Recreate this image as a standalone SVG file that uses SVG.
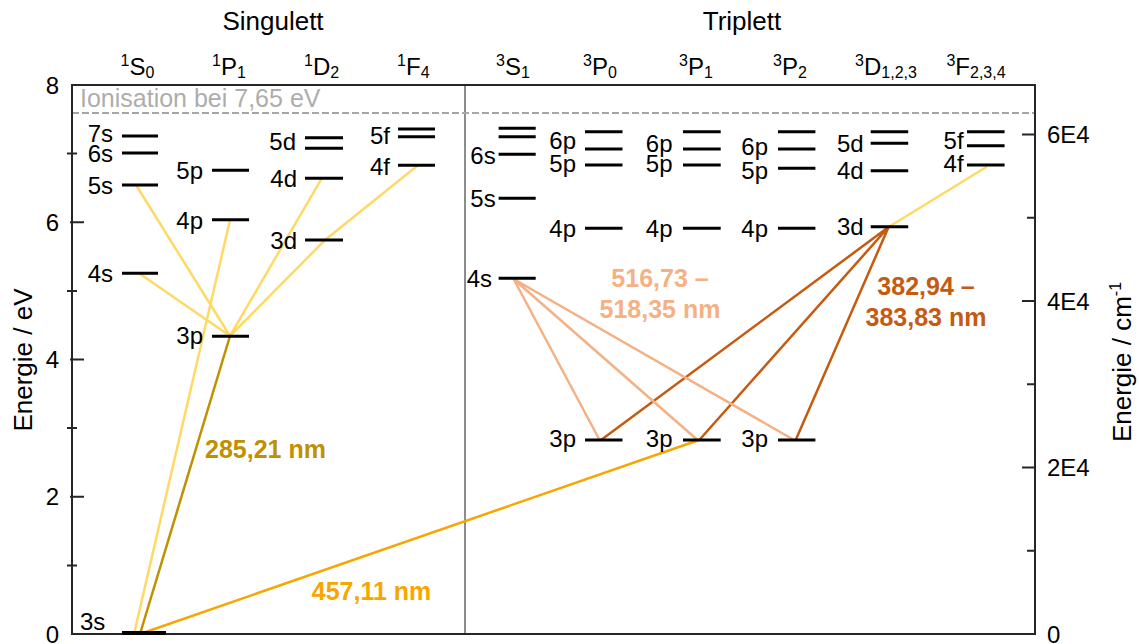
<svg xmlns="http://www.w3.org/2000/svg" width="1139" height="644" viewBox="0 0 1139 644">
<style>
text{font-family:"Liberation Sans",Arial,sans-serif;fill:#000}
.lv{stroke:#000;stroke-width:3;fill:none}
.lb{font-size:24px;text-anchor:end}
.hd{font-size:24px;text-anchor:middle}
.sm{font-size:16px}
.tk{font-size:24px}
.ttl{font-size:26px;text-anchor:middle}
.wl{font-size:25px;font-weight:bold;text-anchor:middle}
.ax{stroke:#262626;stroke-width:2;fill:none}
.tr{stroke-width:2.5;fill:none}
.ly{stroke:#FFD966}.dg{stroke:#BF9000}.og{stroke:#F7A600}.lo{stroke:#F4B183}.do{stroke:#C55A11}
</style>
<rect width="1139" height="644" fill="#fff"/>
<g id="axes">
<line x1="465" y1="85" x2="465" y2="634" stroke="#8C8C8C" stroke-width="2"/>
<line x1="72" y1="113" x2="1035" y2="113" stroke="#A6A6A6" stroke-width="2" stroke-dasharray="7 3"/>
<rect x="72" y="85" width="963" height="549" class="ax"/>
<path class="ax" d="M70 222.25H84M70 359.5H84M70 496.75H84M67 153.6H77M67 290.9H77M67 428.1H77M67 565.4H77"/>
<path class="ax" d="M1035 134.5H1022M1035 301H1022M1035 467.5H1022M1035 217.75H1027M1035 384.25H1027M1035 550.75H1027"/>
<g class="tk" text-anchor="end">
<text x="59" y="93.5">8</text><text x="59" y="230.75">6</text><text x="59" y="368">4</text><text x="59" y="505.25">2</text><text x="59" y="642.5">0</text>
</g>
<g class="tk">
<text x="1047" y="143">6E4</text><text x="1047" y="309.5">4E4</text><text x="1047" y="476">2E4</text><text x="1047" y="642.5">0</text>
</g>
<text class="ttl" transform="translate(32,360) rotate(-90)">Energie / eV</text>
<text class="ttl" transform="translate(1131,362) rotate(-90)">Energie / cm<tspan class="sm" dy="-10">-1</tspan></text>
<text x="80" y="106.5" font-size="25" style="fill:#ADADAD">Ionisation bei 7,65 eV</text>
</g>
<g id="headers">
<text class="ttl" x="273" y="30">Singulett</text>
<text class="ttl" x="742" y="30">Triplett</text>
<text class="hd" x="137.5" y="75"><tspan class="sm" dy="-9">1</tspan><tspan dy="9">S</tspan><tspan class="sm" dy="3">0</tspan></text>
<text class="hd" x="229" y="75"><tspan class="sm" dy="-9">1</tspan><tspan dy="9">P</tspan><tspan class="sm" dy="3">1</tspan></text>
<text class="hd" x="321.7" y="75"><tspan class="sm" dy="-9">1</tspan><tspan dy="9">D</tspan><tspan class="sm" dy="3">2</tspan></text>
<text class="hd" x="413.3" y="75"><tspan class="sm" dy="-9">1</tspan><tspan dy="9">F</tspan><tspan class="sm" dy="3">4</tspan></text>
<text class="hd" x="513" y="75"><tspan class="sm" dy="-9">3</tspan><tspan dy="9">S</tspan><tspan class="sm" dy="3">1</tspan></text>
<text class="hd" x="600" y="75"><tspan class="sm" dy="-9">3</tspan><tspan dy="9">P</tspan><tspan class="sm" dy="3">0</tspan></text>
<text class="hd" x="696" y="75"><tspan class="sm" dy="-9">3</tspan><tspan dy="9">P</tspan><tspan class="sm" dy="3">1</tspan></text>
<text class="hd" x="790" y="75"><tspan class="sm" dy="-9">3</tspan><tspan dy="9">P</tspan><tspan class="sm" dy="3">2</tspan></text>
<text class="hd" x="886" y="75"><tspan class="sm" dy="-9">3</tspan><tspan dy="9">D</tspan><tspan class="sm" dy="3">1,2,3</tspan></text>
<text class="hd" x="976" y="75"><tspan class="sm" dy="-9">3</tspan><tspan dy="9">F</tspan><tspan class="sm" dy="3">2,3,4</tspan></text>
</g>
<g id="connectors">
<path class="tr ly" d="M136 185L230 336M139 273.3L230 336M321.7 178.3L230 336M418.3 165L325 240L230 336M230 220L134 634"/>
<path class="tr dg" d="M230 336L140 634"/>
<path class="tr og" d="M140 634L699 440"/>
<path class="tr ly" d="M986.8 166.7L888.6 227"/>
<path class="tr do" d="M888.6 227L601 440M888.6 227L699.3 440M888.6 227L795.7 440"/>
<path class="tr lo" d="M513.6 279L599.6 440M513.6 279L697.5 440M513.6 279L794 440"/>
<text class="wl" x="265.5" y="458" style="fill:#BF9000">285,21 nm</text>
<text class="wl" x="371.5" y="600" style="fill:#F7A600">457,11 nm</text>
<text class="wl" x="660" y="287" style="fill:#F4B183">516,73 –</text>
<text class="wl" x="660" y="318" style="fill:#F4B183">518,35 nm</text>
<text class="wl" x="926" y="295" style="fill:#C55A11">382,94 –</text>
<text class="wl" x="926" y="326" style="fill:#C55A11">383,83 nm</text>
</g>
<g id="S0">
<path class="lv" d="M122 136H158M122 153H158M122 185H158M122 273.3H158"/>
<path d="M122 633H166" stroke="#000" stroke-width="4"/>
<text class="lb" x="113" y="141.5">7s</text><text class="lb" x="113" y="161.5">6s</text><text class="lb" x="113" y="193.5">5s</text><text class="lb" x="113" y="281.8">4s</text>
<text x="80" y="630" font-size="24">3s</text>
</g>
<g id="P1s">
<path class="lv" d="M212 170.3H249M212 219.7H249M212 336.3H249"/>
<text class="lb" x="203" y="178.8">5p</text><text class="lb" x="203" y="228.5">4p</text><text class="lb" x="203" y="343.5">3p</text>
</g>
<g id="D2s">
<path class="lv" d="M305 137.7H343M305 148.3H343M305 178.3H343M305 240H343"/>
<text class="lb" x="296" y="150.2">5d</text><text class="lb" x="297" y="186.8">4d</text><text class="lb" x="297" y="248.5">3d</text>
</g>
<g id="F4s">
<path class="lv" d="M398 129H435M398 136.7H435M398 165.3H435"/>
<text class="lb" x="390" y="143.5">5f</text><text class="lb" x="390" y="175.2">4f</text>
</g>
<g id="S1t">
<path class="lv" d="M498.6 128.3H535.7M498.6 136.7H535.7M498.6 154.3H535.7M498.6 198.3H535.7M498.6 278.3H535.7"/>
<text class="lb" x="495.7" y="163.5">6s</text><text class="lb" x="495.7" y="206.8">5s</text><text class="lb" x="492" y="286.8">4s</text>
</g>
<g id="P0t">
<path class="lv" d="M585 131.7H622.5M585 149H622.5M585 165H622.5M585 228.3H622.5M585 440H622.5"/>
<text class="lb" x="576" y="148.5">6p</text><text class="lb" x="576" y="171.8">5p</text><text class="lb" x="576" y="236.8">4p</text><text class="lb" x="576" y="447">3p</text>
</g>
<g id="P1t">
<path class="lv" d="M683 131.7H720.7M683 149H720.7M683 165H720.7M683 228.3H720.7M683 440H720.7"/>
<text class="lb" x="672.5" y="151.8">6p</text><text class="lb" x="672.5" y="171.8">5p</text><text class="lb" x="672.5" y="236.8">4p</text><text class="lb" x="672.5" y="447">3p</text>
</g>
<g id="P2t">
<path class="lv" d="M778 131.7H815.4M778 149H815.4M778 168.3H815.4M778 228.3H815.4M778 440H815.4"/>
<text class="lb" x="768" y="155.2">6p</text><text class="lb" x="768" y="178.5">5p</text><text class="lb" x="768" y="236.8">4p</text><text class="lb" x="768" y="447">3p</text>
</g>
<g id="Dt">
<path class="lv" d="M870.7 131.7H908.2M870.7 143.3H908.2M870.7 170.7H908.2M870.7 226.7H908.2"/>
<text class="lb" x="863.6" y="151.8">5d</text><text class="lb" x="863.6" y="179.2">4d</text><text class="lb" x="863.6" y="235.2">3d</text>
</g>
<g id="Ft">
<path class="lv" d="M967 131.7H1004.6M967 145.7H1004.6M967 165H1004.6"/>
<text class="lb" x="963.6" y="148.5">5f</text><text class="lb" x="963.6" y="171.8">4f</text>
</g>
</svg>
